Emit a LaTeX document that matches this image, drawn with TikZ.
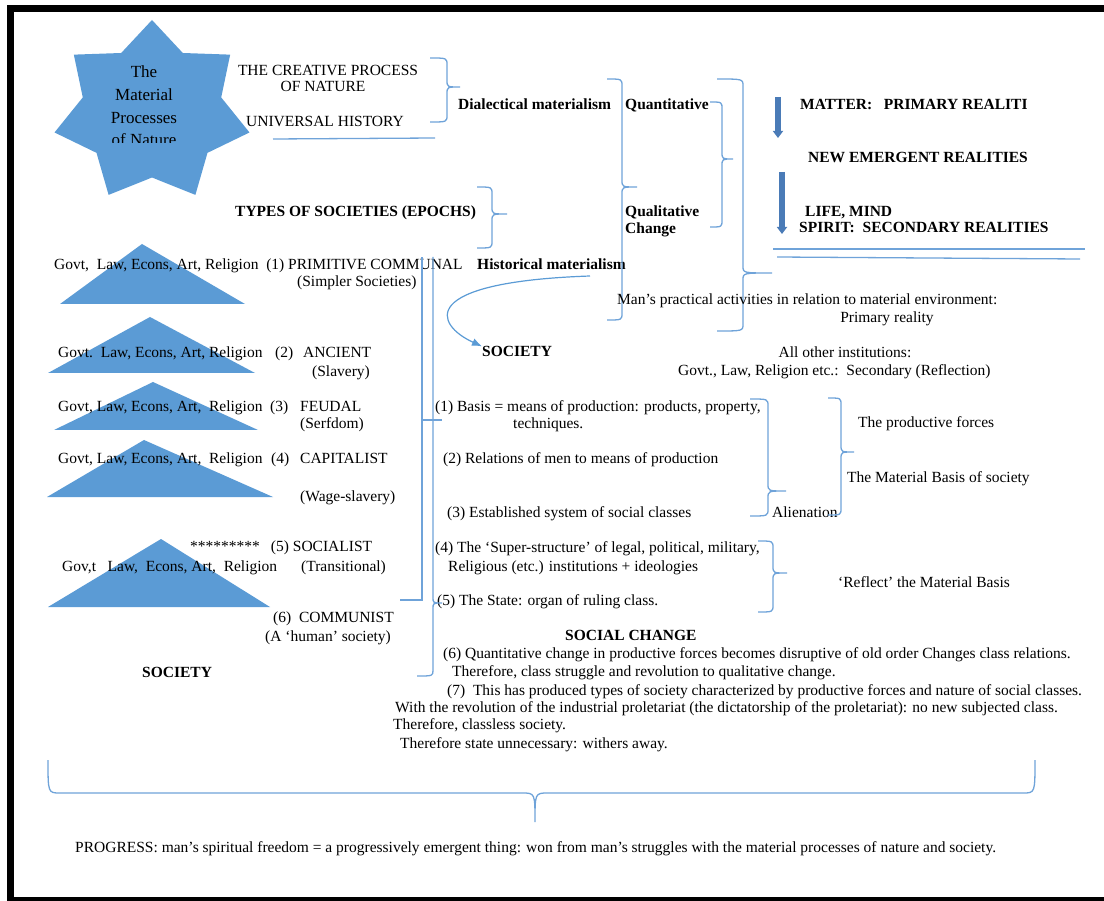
\documentclass[tikz,border=0pt]{standalone}
\usepackage{fontspec}
\setmainfont{Liberation Serif}
\usetikzlibrary{arrows.meta}
\definecolor{sblue}{HTML}{5B9BD5}
\definecolor{lblue}{HTML}{6FA3D9}
\definecolor{dblue}{HTML}{4A7BB7}
% right curly brace: end x, spine x, tip x, top y, tip y, bottom y
\newcommand{\curlyr}[6]{\draw [brc] (#1,#4) .. controls (#2,#4) .. (#2,#4+7) -- (#2,#5-7) .. controls (#2,#5) .. (#3,#5) .. controls (#2,#5) .. (#2,#5+7) -- (#2,#6-7) .. controls (#2,#6) .. (#1,#6);}
\begin{document}
\begin{tikzpicture}[x=1pt, y=-1pt,
	txt/.style={font=\fontsize{15.5}{16}\selectfont, inner sep=0pt, anchor=mid west, yshift=-2.5pt},
	btxt/.style={txt, font=\fontsize{15.5}{16}\selectfont\bfseries},
	ctxt/.style={txt, anchor=mid},
	brc/.style={draw=lblue, line width=1.3pt},
	blk/.style={draw=dblue, line width=5.5pt, -{Triangle[width=10pt,length=7pt]}},
	curvearr/.style={draw=sblue, line width=1.2pt, -{Latex[width=8pt,length=10pt]}}]
	\useasboundingbox (0,0) rectangle (1104,901);
	\draw [line width=7pt] (10.5,8.5) rectangle (1130,900.5);
	% star
	\begin{scope}[shift={(152,112)}]
	\fill [sblue] (-90:100 and 92) \foreach \k in {0,...,6} { -- ({-90+\k*360/7+180/7}:71 and 65.5) -- ({-90+(\k+1)*360/7}:100 and 92) } -- cycle;
	\end{scope}
	\begin{scope}
	\clip (80,40) rectangle (220,143);
	\node [align=center, font=\fontsize{17}{22.7}\selectfont, inner sep=0pt] (star) at (144,106) {The\\Material\\Processes\\of Nature};
	\end{scope}
	% pyramids
	\fill [sblue] (60,304) -- (142,244) -- (245,304) -- cycle;
	\fill [sblue] (48,373) -- (150,317) -- (255,373) -- cycle;
	\fill [sblue] (54,430) -- (153,382) -- (258,430) -- cycle;
	\fill [sblue] (47,497) -- (144,440) -- (273,497) -- cycle;
	\fill [sblue] (48,607) -- (161,539) -- (270,607) -- cycle;
	% top
	\node [ctxt] (creat) at (328,71) {THE CREATIVE PROCESS};
	\node [ctxt] (onat) at (323,87) {OF NATURE};
	\node [ctxt] (univ) at (325,122) {UNIVERSAL HISTORY};
	\draw [brc] (273,139) -- (435,138);
	\curlyr{430}{447}{460}{58}{87}{122}
	\node [btxt] (dial) at (458,105) {Dialectical materialism};
	\node [btxt] (quant) at (625,105) {Quantitative};
	\node [btxt] (qual) at (625,212) {Qualitative};
	\node [btxt] (chng) at (625,229) {Change};
	\node [btxt] (types) at (235,212) {TYPES OF SOCIETIES (EPOCHS)};
	\curlyr{477}{492}{507}{187}{214}{248}
	\node [btxt] (hist) at (477,265) {Historical materialism};
	\curlyr{607}{622}{637}{79}{187}{320}
	\curlyr{710}{722}{733}{102}{159}{227}
	\curlyr{717}{743}{772}{79}{273}{331}
	% realities
	\node [btxt] (matter) at (800,105) {MATTER:\ \ \ PRIMARY REALITI};
	\node [btxt] (emerg) at (808,158) {NEW EMERGENT REALITIES};
	\node [btxt] (life) at (805,212) {LIFE, MIND};
	\node [btxt] (spirit) at (799,228) {SPIRIT:\ \ SECONDARY REALITIES};
	\coordinate (a1s) at (778,97);
	\coordinate (a1e) at (778,138);
	\coordinate (a2s) at (782,172);
	\coordinate (a2e) at (782,234);
	\draw [blk] (a1s) -- (a1e);
	\draw [blk] (a2s) -- (a2e);
	\draw [brc] (773,249) -- (1085,249);
	\draw [brc] (777,257) -- (1080,259);
	\node [txt] (man) at (617,300) {Man's practical activities in relation to material environment:};
	\node [ctxt] (prim) at (887,318) {Primary reality};
	\node [ctxt] (allo) at (845,353) {All other institutions:};
	\node [txt] (govs) at (678,371) {Govt., Law, Religion etc.:\ \ Secondary (Reflection)};
	% society
	\node [btxt] (soc) at (482,352) {SOCIETY};
	\coordinate (hs) at (590,276);
	\draw [curvearr] (hs) .. controls (415,282) and (435,325) .. (soc.north west);
	\node [txt] (b1) at (435,407) {(1) Basis = means of production: products, property,};
	\node [txt] (b1b) at (513,424) {techniques.};
	\node [txt] (b2) at (443,459) {(2) Relations of men to means of production};
	\node [txt] (b3) at (447,513) {(3) Established system of social classes};
	\curlyr{750}{768}{786}{399}{491}{516}
	\node [txt] (alien) at (772,513) {Alienation};
	\curlyr{828}{841}{854}{398}{452}{515}
	\node [txt] (pf) at (858,423) {The productive forces};
	\node [txt] (mb) at (847,478) {The Material Basis of society};
	\node [txt] (b4) at (435,548) {(4) The `Super-structure' of legal, political, military,};
	\node [txt] (b4b) at (448,567) {Religious (etc.) institutions + ideologies};
	\curlyr{758}{773}{787}{541}{573}{612}
	\node [txt] (refl) at (838,583) {`Reflect' the Material Basis};
	\node [txt] (b5) at (437,601) {(5) The State: organ of ruling class.};
	\node [btxt] (sc) at (565,636) {SOCIAL CHANGE};
	\node [txt] (c6) at (443,654) {(6) Quantitative change in productive forces becomes disruptive of old order Changes class relations.};
	\node [txt] (c6b) at (452,672) {Therefore, class struggle and revolution to qualitative change.};
	\node [txt] (c7) at (447,691) {(7)\ \ This has produced types of society characterized by productive forces and nature of social classes.};
	\node [txt] (c8) at (395,708) {With the revolution of the industrial proletariat (the dictatorship of the proletariat): no new subjected class.};
	\node [txt] (c9) at (393,725) {Therefore, classless society.};
	\node [txt] (c10) at (400,744) {Therefore state unnecessary: withers away.};
	% epochs
	\node [txt] (e1) at (54,265) {Govt,\ \ Law, Econs, Art, Religion\ \ (1) PRIMITIVE COMMUNAL};
	\node [txt] (e1b) at (297,282) {(Simpler Societies)};
	\node [txt] (e2) at (58,353) {Govt.\ \ Law, Econs, Art, Religion};
	\node [txt] (n2) at (275,353) {(2)};
	\node [txt] (e2a) at (303,353) {ANCIENT};
	\node [txt] (e2b) at (312,372) {(Slavery)};
	\node [txt] (e3) at (58,407) {Govt, Law, Econs, Art,\ \ Religion};
	\node [txt] (n3) at (270,407) {(3)};
	\node [txt] (e3a) at (300,407) {FEUDAL};
	\node [txt] (e3b) at (300,424) {(Serfdom)};
	\node [txt] (e4) at (58,459) {Govt, Law, Econs, Art,\ \ Religion};
	\node [txt] (n4) at (271,459) {(4)};
	\node [txt] (e4a) at (300,459) {CAPITALIST};
	\node [txt] (e4b) at (300,497) {(Wage-slavery)};
	\node [txt] (e5a) at (190,547) {*********\hspace{11pt}(5) SOCIALIST};
	\node [txt] (e5) at (62,567) {Gov,t\ \ \ Law,\ \ Econs, Art,\ \ Religion};
	\node [txt] (e5b) at (301,567) {(Transitional)};
	\node [txt] (e6) at (273,618) {(6)\ \ COMMUNIST};
	\node [txt] (e6b) at (265,637) {(A `human' society)};
	\node [btxt] (lsoc) at (142,673) {SOCIETY};
	\draw [brc] (400,600) -- (422,600) -- (422,257);
	\draw [brc] (422,420) -- (442,420);
	\draw [brc] (433,257) -- (433,597) .. controls (433,603) .. (442,603) .. controls (433,603) .. (433,609) -- (433,670) .. controls (433,676) .. (417,676);
	% progress
	\draw [brc] (48,760) .. controls (48,793) .. (60,793) -- (522,793) .. controls (535,793) .. (535,822) .. controls (535,793) .. (548,793) -- (1023,793) .. controls (1035,793) .. (1035,760);
	\node [txt] (prog) at (75,848) {PROGRESS: man's spiritual freedom = a progressively emergent thing: won from man's struggles with the material processes of nature and society.};
\end{tikzpicture}
\end{document}
